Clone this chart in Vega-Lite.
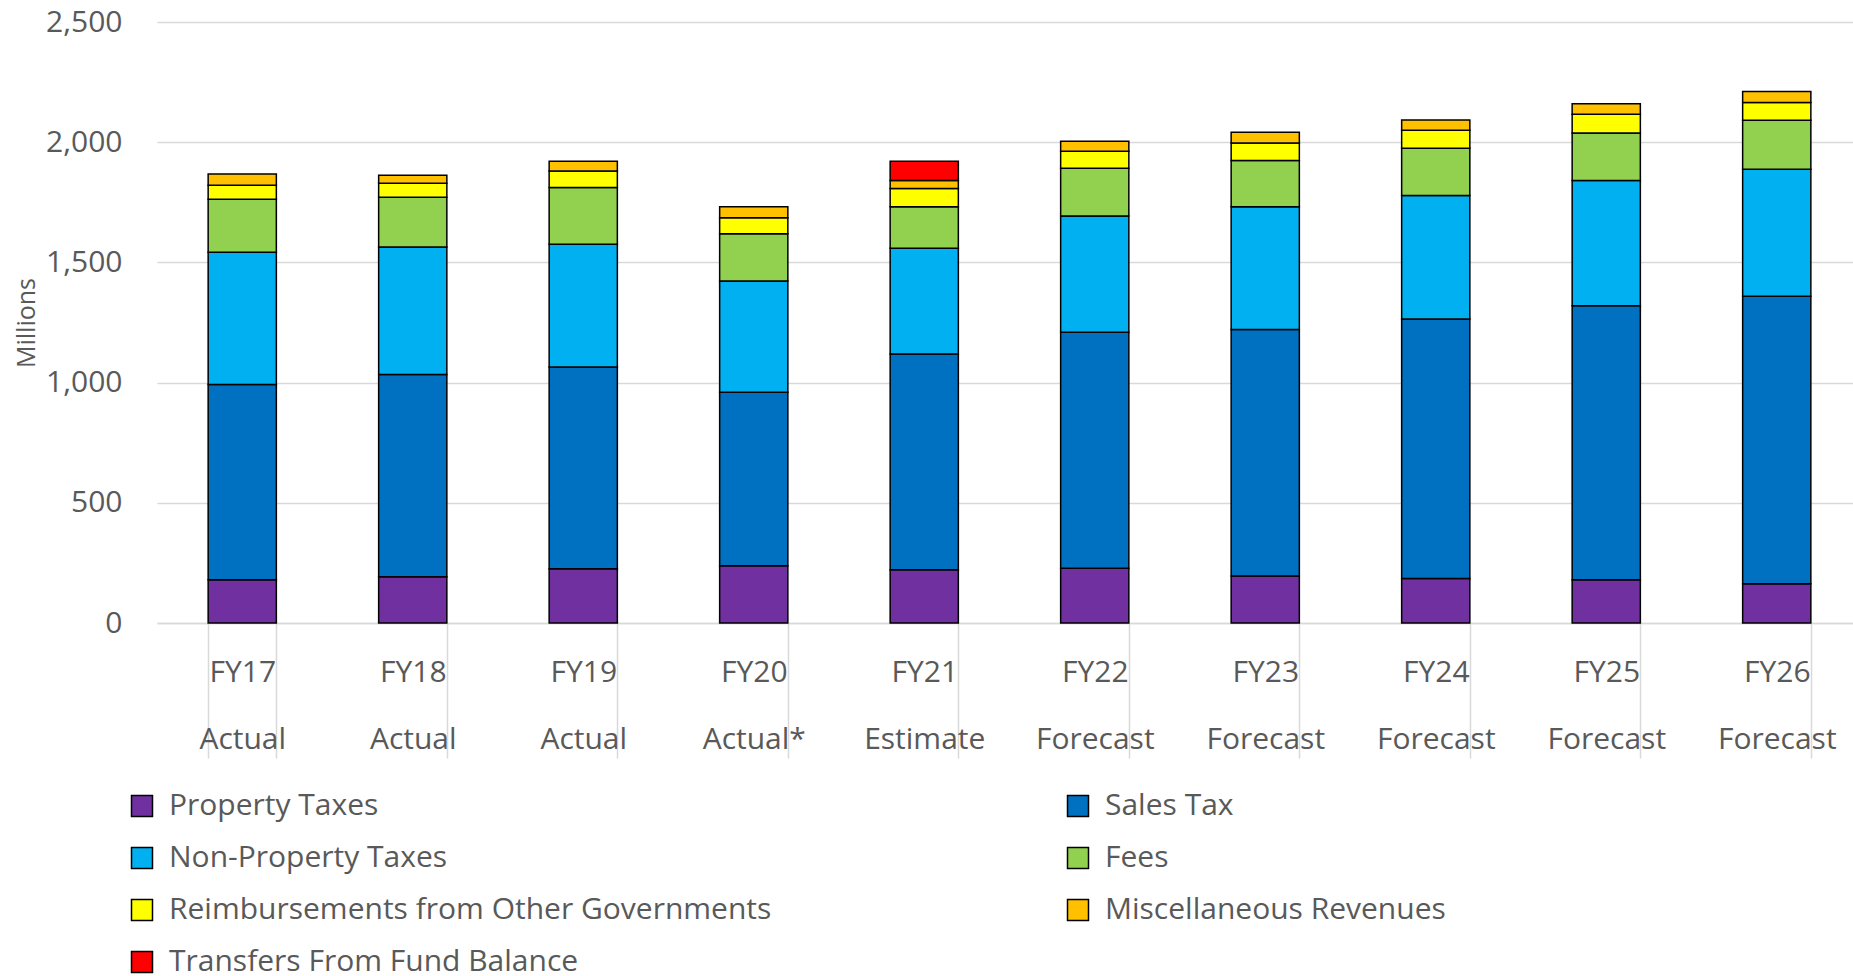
{
  "$schema": "https://vega.github.io/schema/vega-lite/v6.json",
  "autosize": "none",
  "padding": {"left": 157, "top": 22, "right": 0, "bottom": 353},
  "width": 1696,
  "height": 601,
  "config": {
    "font": "Open Sans",
    "view": {"stroke": null},
    "axis": {"labelColor": "#595959", "titleColor": "#595959"}
  },
  "data": {
    "values": [
      {"fy": "FY17|Actual", "type": "Property Taxes", "v": 180},
      {"fy": "FY17|Actual", "type": "Sales Tax", "v": 812},
      {"fy": "FY17|Actual", "type": "Non-Property Taxes", "v": 550},
      {"fy": "FY17|Actual", "type": "Fees", "v": 221},
      {"fy": "FY17|Actual", "type": "Reimbursements from Other Governments", "v": 58},
      {"fy": "FY17|Actual", "type": "Miscellaneous Revenues", "v": 47},
      {"fy": "FY18|Actual", "type": "Property Taxes", "v": 192},
      {"fy": "FY18|Actual", "type": "Sales Tax", "v": 842},
      {"fy": "FY18|Actual", "type": "Non-Property Taxes", "v": 530},
      {"fy": "FY18|Actual", "type": "Fees", "v": 207},
      {"fy": "FY18|Actual", "type": "Reimbursements from Other Governments", "v": 58},
      {"fy": "FY18|Actual", "type": "Miscellaneous Revenues", "v": 34},
      {"fy": "FY19|Actual", "type": "Property Taxes", "v": 226},
      {"fy": "FY19|Actual", "type": "Sales Tax", "v": 839},
      {"fy": "FY19|Actual", "type": "Non-Property Taxes", "v": 511},
      {"fy": "FY19|Actual", "type": "Fees", "v": 236},
      {"fy": "FY19|Actual", "type": "Reimbursements from Other Governments", "v": 68},
      {"fy": "FY19|Actual", "type": "Miscellaneous Revenues", "v": 41},
      {"fy": "FY20|Actual*", "type": "Property Taxes", "v": 238},
      {"fy": "FY20|Actual*", "type": "Sales Tax", "v": 722},
      {"fy": "FY20|Actual*", "type": "Non-Property Taxes", "v": 463},
      {"fy": "FY20|Actual*", "type": "Fees", "v": 196},
      {"fy": "FY20|Actual*", "type": "Reimbursements from Other Governments", "v": 67},
      {"fy": "FY20|Actual*", "type": "Miscellaneous Revenues", "v": 45},
      {"fy": "FY21|Estimate", "type": "Property Taxes", "v": 222},
      {"fy": "FY21|Estimate", "type": "Sales Tax", "v": 897},
      {"fy": "FY21|Estimate", "type": "Non-Property Taxes", "v": 440},
      {"fy": "FY21|Estimate", "type": "Fees", "v": 173},
      {"fy": "FY21|Estimate", "type": "Reimbursements from Other Governments", "v": 75},
      {"fy": "FY21|Estimate", "type": "Miscellaneous Revenues", "v": 34},
      {"fy": "FY21|Estimate", "type": "Transfers From Fund Balance", "v": 80},
      {"fy": "FY22|Forecast", "type": "Property Taxes", "v": 228},
      {"fy": "FY22|Forecast", "type": "Sales Tax", "v": 981},
      {"fy": "FY22|Forecast", "type": "Non-Property Taxes", "v": 484},
      {"fy": "FY22|Forecast", "type": "Fees", "v": 199},
      {"fy": "FY22|Forecast", "type": "Reimbursements from Other Governments", "v": 70},
      {"fy": "FY22|Forecast", "type": "Miscellaneous Revenues", "v": 42},
      {"fy": "FY23|Forecast", "type": "Property Taxes", "v": 195},
      {"fy": "FY23|Forecast", "type": "Sales Tax", "v": 1026},
      {"fy": "FY23|Forecast", "type": "Non-Property Taxes", "v": 511},
      {"fy": "FY23|Forecast", "type": "Fees", "v": 192},
      {"fy": "FY23|Forecast", "type": "Reimbursements from Other Governments", "v": 73},
      {"fy": "FY23|Forecast", "type": "Miscellaneous Revenues", "v": 44},
      {"fy": "FY24|Forecast", "type": "Property Taxes", "v": 185},
      {"fy": "FY24|Forecast", "type": "Sales Tax", "v": 1080},
      {"fy": "FY24|Forecast", "type": "Non-Property Taxes", "v": 513},
      {"fy": "FY24|Forecast", "type": "Fees", "v": 197},
      {"fy": "FY24|Forecast", "type": "Reimbursements from Other Governments", "v": 75},
      {"fy": "FY24|Forecast", "type": "Miscellaneous Revenues", "v": 42},
      {"fy": "FY25|Forecast", "type": "Property Taxes", "v": 180},
      {"fy": "FY25|Forecast", "type": "Sales Tax", "v": 1140},
      {"fy": "FY25|Forecast", "type": "Non-Property Taxes", "v": 521},
      {"fy": "FY25|Forecast", "type": "Fees", "v": 197},
      {"fy": "FY25|Forecast", "type": "Reimbursements from Other Governments", "v": 78},
      {"fy": "FY25|Forecast", "type": "Miscellaneous Revenues", "v": 44},
      {"fy": "FY26|Forecast", "type": "Property Taxes", "v": 163},
      {"fy": "FY26|Forecast", "type": "Sales Tax", "v": 1196},
      {"fy": "FY26|Forecast", "type": "Non-Property Taxes", "v": 528},
      {"fy": "FY26|Forecast", "type": "Fees", "v": 204},
      {"fy": "FY26|Forecast", "type": "Reimbursements from Other Governments", "v": 74},
      {"fy": "FY26|Forecast", "type": "Miscellaneous Revenues", "v": 46}
    ]
  },
  "transform": [
    {"calculate": "indexof(['Property Taxes', 'Sales Tax', 'Non-Property Taxes', 'Fees', 'Reimbursements from Other Governments', 'Miscellaneous Revenues', 'Transfers From Fund Balance'], datum.type)", "as": "stackRank"}
  ],
  "mark": {"type": "bar", "stroke": "#000000", "strokeWidth": 1.5},
  "encoding": {
    "x": {
      "field": "fy",
      "type": "nominal",
      "sort": null,
      "scale": {"range": [0, 1705], "paddingInner": 0.6, "paddingOuter": 0.3},
      "axis": {
        "title": null,
        "labelAngle": 0,
        "labelExpr": "split(datum.label, '|')",
        "labelFontSize": 30,
        "labelLineHeight": 67,
        "labelBaseline": "alphabetic",
        "labelPadding": -77,
        "tickBand": "extent",
        "tickSize": 135,
        "tickColor": "#d9d9d9",
        "tickWidth": 1.5,
        "domainColor": "#d9d9d9",
        "domainWidth": 1.5
      }
    },
    "y": {
      "field": "v",
      "type": "quantitative",
      "aggregate": "sum",
      "stack": "zero",
      "scale": {"domain": [0, 2500]},
      "axis": {
        "title": "Millions",
        "titleFontSize": 25,
        "titleFontWeight": "normal",
        "titlePadding": 6,
        "values": [0, 500, 1000, 1500, 2000, 2500],
        "format": ",.0f",
        "labelFontSize": 30,
        "labelPadding": 35,
        "domain": false,
        "ticks": false,
        "gridColor": "#d9d9d9",
        "gridWidth": 1.5
      }
    },
    "order": {"field": "stackRank", "type": "quantitative", "sort": "ascending"},
    "color": {
      "field": "type",
      "type": "nominal",
      "scale": {
        "domain": ["Property Taxes", "Non-Property Taxes", "Reimbursements from Other Governments", "Transfers From Fund Balance", "Sales Tax", "Fees", "Miscellaneous Revenues"],
        "range": ["#7030A0", "#00B0F0", "#FFFF00", "#FF0000", "#0070C0", "#92D050", "#FFC000"]
      },
      "legend": {
        "title": null,
        "orient": "none",
        "legendX": -30,
        "legendY": 769,
        "columns": 2,
        "columnPadding": 291,
        "rowPadding": 22,
        "symbolType": "square",
        "symbolSize": 441,
        "symbolStrokeColor": "#000000",
        "symbolStrokeWidth": 1.5,
        "symbolOpacity": 1,
        "labelFontSize": 30,
        "labelColor": "#595959",
        "labelOffset": 12,
        "labelLimit": 1000
      }
    }
  }
}
